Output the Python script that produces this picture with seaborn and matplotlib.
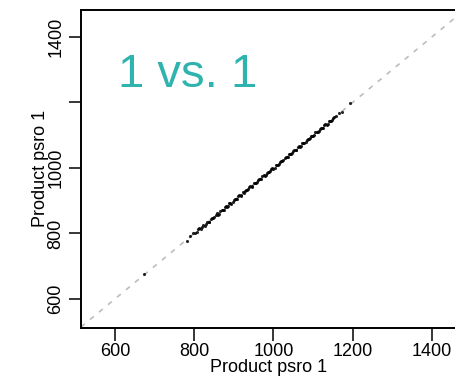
import matplotlib
matplotlib.use("Agg")
import matplotlib.pyplot as plt
import seaborn as sns
import pandas as pd

# data
x_vals = [672, 781, 790, 797, 802, 806, 810, 812, 816, 819, 823, 826, 830, 833, 836, 838, 842,
          845, 848, 851, 855, 858, 860, 862, 866, 869, 872, 874, 877, 880, 883, 886, 889, 891,
          894, 897, 900, 903, 906, 908, 911, 914, 917, 919, 922, 925, 928, 931, 934, 936, 939,
          942, 945, 947, 950, 953, 956, 958, 961, 964, 967, 969, 972, 975, 978, 981, 984, 986,
          989, 992, 995, 997, 1000, 1003, 1006, 1008, 1011, 1014, 1017, 1019, 1022, 1025, 1028,
          1031, 1034, 1036, 1039, 1042, 1045, 1047, 1050, 1053, 1056, 1058, 1061, 1064, 1067,
          1070, 1073, 1075, 1078, 1081, 1084, 1086, 1089, 1092, 1095, 1097, 1100, 1103, 1106,
          1109, 1112, 1114, 1117, 1120, 1123, 1125, 1128, 1131, 1134, 1137, 1140, 1142, 1145,
          1148, 1151, 1153, 1158, 1166, 1172, 1193]
y_vals = [676, 778, 792, 801, 800, 803, 812, 815, 814, 821, 826, 824, 829, 836, 834, 835, 845,
          848, 846, 849, 857, 861, 857, 860, 869, 871, 870, 873, 880, 883, 880, 884, 892, 894,
          891, 895, 903, 906, 904, 906, 914, 917, 915, 917, 925, 924, 931, 934, 932, 935, 942,
          944, 943, 946, 953, 955, 954, 956, 964, 966, 965, 967, 975, 977, 976, 979, 986, 988,
          987, 990, 997, 999, 998, 1001, 1008, 1010, 1009, 1012, 1019, 1021, 1020, 1023, 1031,
          1033, 1032, 1034, 1042, 1044, 1043, 1045, 1053, 1055, 1054, 1056, 1064, 1066, 1065,
          1068, 1075, 1077, 1076, 1079, 1086, 1088, 1087, 1090, 1097, 1099, 1098, 1101, 1109,
          1111, 1110, 1112, 1120, 1122, 1121, 1123, 1131, 1133, 1132, 1135, 1142, 1144, 1143,
          1146, 1153, 1155, 1160, 1167, 1170, 1198]
x_ticks = [600, 800, 1000, 1200, 1400]
y_ticks = [600, 800, 1000, 1200, 1400]
y_tick_labels = ["600", "800", "1000", "", "1400"]
x_label = "Product psro 1"
y_label = "Product psro 1"
title_text = "1 vs. 1"

sns.set_theme(style="white")
plt.rcParams['font.family'] = ['Liberation Sans', 'DejaVu Sans']

df = pd.DataFrame({"x": x_vals, "y": y_vals})

fig = plt.figure(figsize=(4.56, 3.9), dpi=100)
ax = fig.add_axes([81 / 456, 1 - 328 / 390, 1 - 81 / 456, (328 - 9.5) / 390])

ax.axline((0, 0), slope=1, color="#bdbdbd", lw=1.2, ls=(0, (3, 4)), zorder=1)
sns.scatterplot(data=df, x="x", y="y", ax=ax, color="black", s=5, linewidth=0,
                alpha=0.85, zorder=2)

ax.set_xlim(514, 1461)
ax.set_ylim(511, 1484)
ax.set_xticks(x_ticks)
ax.set_xticklabels([str(v) for v in x_ticks])
ax.set_yticks(y_ticks)
ax.set_yticklabels(y_tick_labels, rotation=90, va="center")
ax.tick_params(axis="both", direction="out", length=9, width=1.1, color="black",
               labelsize=13, labelcolor="black", bottom=True, left=True)
ax.tick_params(axis="x", pad=2)
ax.tick_params(axis="y", pad=3)
ax.set_xlabel(x_label, fontsize=13, labelpad=-1, color="black")
ax.set_ylabel(y_label, fontsize=13, labelpad=-1, color="black")

for side in ["left", "bottom", "top"]:
    ax.spines[side].set_visible(True)
    ax.spines[side].set_color("black")
    ax.spines[side].set_linewidth(1.4)
ax.spines["right"].set_visible(False)

ax.text(0.099, 0.757, title_text, transform=ax.transAxes, fontsize=34,
        color="#2fb3ae", va="baseline", ha="left")

fig.savefig("out.png", dpi=100)
